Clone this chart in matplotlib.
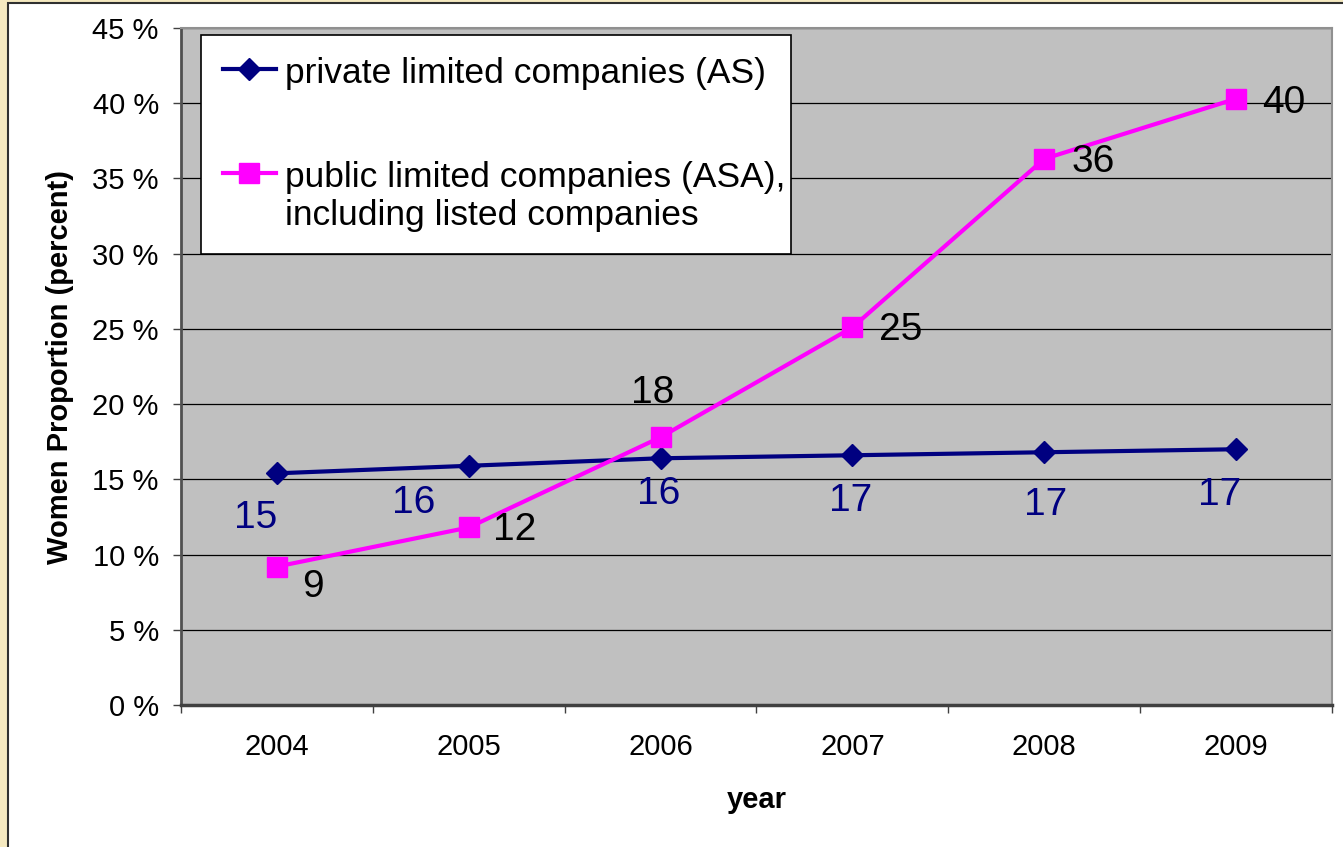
import matplotlib.pyplot as plt
from matplotlib.patches import Rectangle
from matplotlib.ticker import FuncFormatter

plt.rcParams['font.family'] = ['Liberation Sans', 'DejaVu Sans']

years = ['2004', '2005', '2006', '2007', '2008', '2009']
as_share = [15.4, 15.9, 16.4, 16.6, 16.8, 17.0]
asa_share = [9.2, 11.8, 17.8, 25.1, 36.3, 40.3]

# label offsets (points) as placed in the spreadsheet chart
as_offsets = [(-15, -32), (-40, -27), (-1.5, -26), (-1.5, -33), (0.7, -38), (-11.5, -33)]
asa_offsets = [(26, -15), (33, -2), (-6, 32), (35, -2), (35, -2), (34, -3)]

navy = '#000080'
magenta = '#FF00FF'

fig = plt.figure(figsize=(13.43, 8.47), dpi=100, facecolor='#F5E9C0')
# white chart panel with dark border
fig.patches.append(Rectangle((8 / 1343, -0.05), 1.1, 1.05 - 3 / 847,
                             transform=fig.transFigure, facecolor='white',
                             edgecolor='#303030', linewidth=1.5, zorder=-1))

ax = fig.add_axes([181 / 1343, 1 - 705 / 847, (1332 - 181) / 1343, (705 - 28) / 847])
ax.set_facecolor('#C0C0C0')

x = list(range(len(years)))
ax.plot(x, as_share, color=navy, linewidth=3, marker='D', markersize=11.5,
        label='private limited companies (AS)', zorder=3)
ax.plot(x, asa_share, color=magenta, linewidth=3, marker='s', markersize=15,
        label='public limited companies (ASA),\nincluding listed companies', zorder=4)

for i in x:
    ax.annotate(f'{round(as_share[i])}', (i, as_share[i]), xytext=as_offsets[i],
                textcoords='offset points', ha='center', va='center',
                fontsize=28, color=navy, zorder=5)
    ax.annotate(f'{round(asa_share[i])}', (i, asa_share[i]), xytext=asa_offsets[i],
                textcoords='offset points', ha='center', va='center',
                fontsize=28, color='black', zorder=5)

ax.set_xlim(-0.5, 5.5)
ax.set_ylim(0, 45)
ax.set_yticks(range(0, 46, 5))
ax.yaxis.set_major_formatter(FuncFormatter(lambda v, p: f'{int(v)} %'))
ax.grid(axis='y', color='black', linewidth=0.9)
ax.set_axisbelow(True)

ax.set_xticks(x)
ax.set_xticklabels(years)
ax.set_xticks([i - 0.5 for i in range(7)], minor=True)
ax.tick_params(axis='x', which='major', length=0, pad=20, labelsize=21)
ax.tick_params(axis='x', which='minor', length=6, width=1, color='#404040', direction='out')
ax.tick_params(axis='y', length=6, width=1, color='#404040', pad=10, labelsize=21)

for side in ['top', 'right']:
    ax.spines[side].set_color('#909090')
    ax.spines[side].set_linewidth(1.5)
ax.spines['left'].set_color('#505050')
ax.spines['left'].set_linewidth(2)
ax.spines['bottom'].set_color('#404040')
ax.spines['bottom'].set_linewidth(2.5)

ax.set_xlabel('year', fontsize=21, fontweight='bold', labelpad=18)
ax.set_ylabel('Women Proportion (percent)', fontsize=21, fontweight='bold', labelpad=13)

leg = ax.legend(loc='upper left', bbox_to_anchor=(0.017, 0, 0.5126, 0.99),
                mode='expand', borderaxespad=0,
                fontsize=25.5, frameon=True, fancybox=False, framealpha=1,
                edgecolor='black', labelspacing=2.0, handlelength=1.5,
                handletextpad=0.25, borderpad=0.62)
leg.get_frame().set_linewidth(1.2)
# put each legend symbol level with the first line of its label
for row in leg._legend_handle_box.get_children()[0].get_children():
    row.align = 'top'

fig.savefig('out.png', dpi=100, facecolor=fig.get_facecolor())
